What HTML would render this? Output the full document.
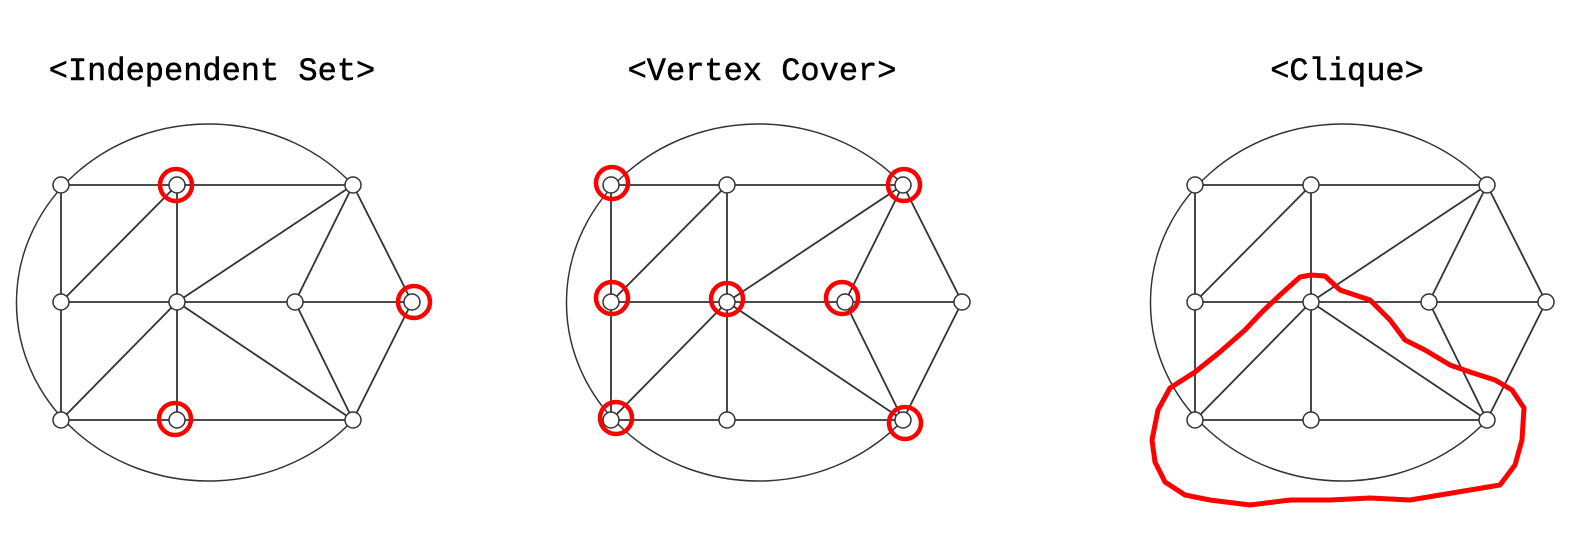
<!DOCTYPE html>
<html><head><meta charset="utf-8"><style>
html,body{margin:0;padding:0;background:#fff;width:1575px;height:551px;overflow:hidden}
text{font-family:"Liberation Mono","DejaVu Sans Mono",monospace;font-size:32px;fill:#000;stroke:#000;stroke-width:0.5}
</style></head><body>
<svg width="1575" height="551" viewBox="0 0 1575 551" xmlns="http://www.w3.org/2000/svg">
<defs>
<g id="g">
<path d="M353,185 A192,178.5 0 1 0 353,420" fill="none" stroke="#333" stroke-width="1.5"/>
<g stroke="#333" stroke-width="1.8" fill="none">
<line x1="61" y1="185" x2="353" y2="185"/>
<line x1="61" y1="302" x2="412" y2="302"/>
<line x1="61" y1="420" x2="353" y2="420"/>
<line x1="61" y1="185" x2="61" y2="420"/>
<line x1="177" y1="185" x2="177" y2="420"/>
<line x1="177" y1="185" x2="61" y2="302"/>
<line x1="177" y1="302" x2="61" y2="420"/>
<line x1="353" y1="185" x2="177" y2="302"/>
<line x1="177" y1="302" x2="353" y2="420"/>
<line x1="353" y1="185" x2="295" y2="302"/>
<line x1="295" y1="302" x2="353" y2="420"/>
<line x1="353" y1="185" x2="412" y2="302"/>
<line x1="412" y1="302" x2="353" y2="420"/>
</g>
<g fill="#fff" stroke="#333" stroke-width="1.5">
<circle cx="61" cy="185" r="8"/><circle cx="177" cy="185" r="8"/><circle cx="353" cy="185" r="8"/>
<circle cx="61" cy="302" r="8"/><circle cx="177" cy="302" r="8"/><circle cx="295" cy="302" r="8"/><circle cx="412" cy="302" r="8"/>
<circle cx="61" cy="420" r="8"/><circle cx="177" cy="420" r="8"/><circle cx="353" cy="420" r="8"/>
</g>
</g>
</defs>
<text x="212" y="80" text-anchor="middle">&lt;Independent Set&gt;</text>
<text x="762" y="80" text-anchor="middle">&lt;Vertex Cover&gt;</text>
<text x="1347" y="80" text-anchor="middle">&lt;Clique&gt;</text>
<use href="#g"/>
<use href="#g" transform="translate(550,0)"/>
<use href="#g" transform="translate(1134,0)"/>
<g fill="none" stroke="#f00" stroke-width="4.5">
<circle cx="176" cy="185" r="16"/><circle cx="414" cy="302" r="16"/><circle cx="175" cy="419" r="16"/>
<circle cx="612" cy="183" r="16"/><circle cx="904" cy="185" r="16"/>
<circle cx="612" cy="298" r="16"/><circle cx="727" cy="299" r="16"/><circle cx="842" cy="298" r="16"/>
<circle cx="616" cy="418" r="16"/><circle cx="905" cy="423" r="16"/>
<path d="M1300,277 L1311,275 L1325,276 L1340,290 L1370,300 L1390,320 L1405,340 L1425,350 L1450,365 L1470,372 L1495,380 L1512,390 L1524,408 L1522,440 L1515,465 L1500,485 L1470,490 L1440,495 L1410,500 L1370,498 L1330,500 L1290,500 L1250,505 L1210,500 L1185,495 L1165,482 L1155,462 L1152,440 L1158,410 L1170,388 L1195,372 L1220,352 L1245,330 L1262,312 L1280,295 Z" stroke-linejoin="round" stroke-width="5"/>
</g>
</svg>
</body></html>
